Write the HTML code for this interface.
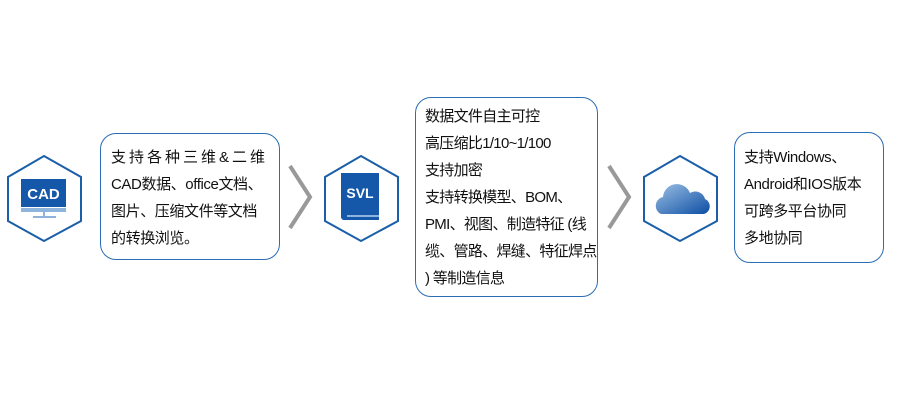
<!DOCTYPE html>
<html><head><meta charset="utf-8"><style>
body{margin:0;width:900px;height:400px;background:#fff;position:relative;overflow:hidden;font-family:"Liberation Sans","Noto Sans CJK SC",sans-serif;}
.box{position:absolute;border:1.5px solid #2a6db5;border-radius:16px;box-sizing:border-box;font-size:15px;line-height:27px;color:#111;white-space:nowrap;letter-spacing:-0.4px;}
svg{position:absolute;left:0;top:0}
</style></head><body>
<svg width="900" height="400">
<defs><linearGradient id="g" x1="0" y1="0" x2="1" y2="1"><stop offset="0" stop-color="#9cc0e4"/><stop offset="1" stop-color="#0d4ea3"/></linearGradient></defs>
<g fill="none" stroke="#1a5fa8" stroke-width="2">
<polygon points="44,156 81,177 81,221 44,241 8,221 8,177"/>
<polygon points="361,156 398,177 398,221 361,241 325,221 325,177"/>
<polygon points="680,156 717,177 717,221 680,241 644,221 644,177"/>
</g>
<g fill="none" stroke="#999" stroke-width="4">
<polyline points="290,166 310,197 290,228"/>
<polyline points="609,166 629,197 609,228"/>
</g>
<rect x="21" y="179" width="45" height="28" fill="#1557a8"/>
<text x="43.5" y="199" font-family="Liberation Sans" font-weight="bold" font-size="15" fill="#fff" text-anchor="middle">CAD</text>
<rect x="21" y="208" width="45" height="4" fill="#8eb3dc"/>
<rect x="43" y="212" width="2" height="4" fill="#8eb3dc"/>
<rect x="33" y="216" width="23" height="2" fill="#8eb3dc"/>
<rect x="341" y="173" width="38" height="41" fill="#1557a8"/>
<text x="360" y="198" font-family="Liberation Sans" font-weight="bold" font-size="14" fill="#fff" text-anchor="middle">SVL</text>
<path d="M341,214 h38 v6 h-35 a3,3 0 0 1 -3,-3z" fill="#1557a8"/>
<rect x="347" y="215" width="32" height="2" fill="#8eb3dc"/>
<path d="M661,214 a9,9 0 0 1 2,-17 a14,14 0 0 1 27,-4 a10,10 0 0 1 15,6 a8,8 0 0 1 -1,15z" fill="url(#g)"/>
</svg>
<div class="box" style="left:100px;top:133px;width:180px;height:127px;padding:10px 0 0 10px"><span style="letter-spacing:3px">支持各种三维&amp;二维</span><br>CAD数据、office文档、<br>图片、压缩文件等文档<br>的转换浏览。</div>
<div class="box" style="left:415px;top:97px;width:183px;height:200px;padding:5px 0 0 9px;letter-spacing:-0.7px">数据文件自主可控<br>高压缩比1/10~1/100<br>支持加密<br>支持转换模型、BOM、<br>PMI、视图、制造特征 (线<br>缆、管路、焊缝、特征焊点<br>) 等制造信息</div>
<div class="box" style="left:734px;top:132px;width:150px;height:131px;padding:11px 0 0 9px">支持Windows、<br>Android和IOS版本<br>可跨多平台协同<br>多地协同</div>
</body></html>
